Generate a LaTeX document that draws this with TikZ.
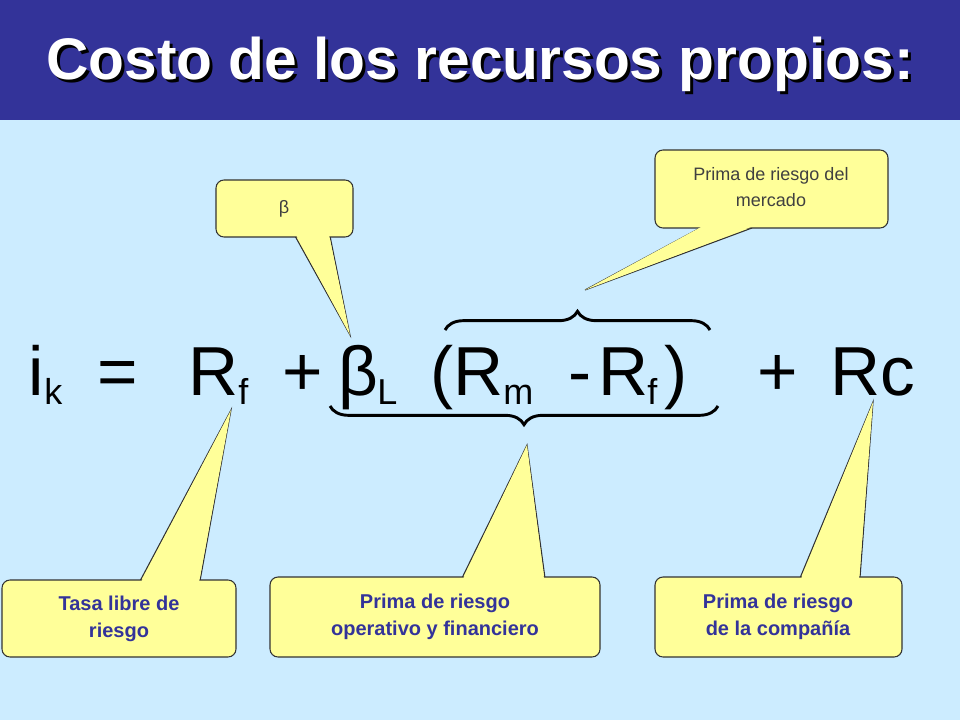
\documentclass[tikz,border=0pt]{standalone}
\usepackage{fontspec}
\setmainfont{Liberation Sans}
\usetikzlibrary{decorations.pathreplacing}
\definecolor{bar}{HTML}{333399}
\definecolor{bg}{HTML}{CCECFF}
\definecolor{call}{HTML}{FFFF99}
\begin{document}
\begin{tikzpicture}[x=0.75pt,y=-0.75pt,
  big/.style={font=\fontsize{52}{52}\selectfont,inner sep=0,anchor=base west},
  sub/.style={font=\fontsize{27}{27}\selectfont,inner sep=0,anchor=base west},
  cbox/.style={draw=black!80,fill=call,rounded corners=6pt,line width=0.8pt},
  ptr/.style={draw=black!80,fill=call,line width=0.8pt,line join=miter},
  ctxt/.style={align=center,text=bar,font=\bfseries\fontsize{15}{20}\selectfont},
  ttxt/.style={align=center,text=black!75,font=\fontsize{13.5}{20}\selectfont},
  br/.style={decorate,line width=2.2pt}]
\useasboundingbox (0,0) rectangle (960,720);
\fill[bg] (0,0) rectangle (960,720);
\fill[bar] (0,0) rectangle (960,120);
\node[text=black,font=\bfseries\fontsize{44}{44}\selectfont] (tsh) at (483,67) {Costo de los recursos propios:};
\node[text=white,font=\bfseries\fontsize{44}{44}\selectfont] (title) at (480,64) {Costo de los recursos propios:};
% formula
\node[big] (i) at (28,395) {i};
\node[sub] (k) at (44,404) {k};
\node[big] (eq) at (97,395) {=};
\node[big] (R1) at (188,395) {R};
\node[sub] (f1) at (238,404) {f};
\node[big] (p1) at (282,395) {+};
\node[big] (beta) at (338,395) {β};
\node[sub] (L) at (377,404) {L};
\node[big] (par1) at (430,395) {(R};
\node[sub] (m) at (503,404) {m};
\node[big] (minus) at (568,395) {-};
\node[big] (R2) at (598,395) {R};
\node[sub] (f2) at (647,404) {f};
\node[big] (par2) at (664,395) {)};
\node[big] (p2) at (757,395) {+};
\node[big] (Rc) at (830,395) {Rc};
% braces
\coordinate (ua) at (445,330); \coordinate (ub) at (710,330);
\draw[br,decoration={brace,amplitude=14pt}] (ua) -- (ub);
\coordinate (la) at (718,406); \coordinate (lb) at (330,406);
\draw[br,decoration={brace,amplitude=14pt}] (la) -- (lb);
% callout beta
\coordinate (t1) at (350,335);
\draw[ptr] (295,236) -- (t1) -- (330,236);
\draw[cbox] (216,180) rectangle (353,237);
\fill[call] (296,235) -- (t1) -- (329,235);
\node[ttxt] (cb) at (284,209) {β};
% callout mercado
\coordinate (t2) at (585,290);
\draw[ptr] (700,228) -- (t2) -- (752,228);
\draw[cbox] (655,150) rectangle (888,228);
\fill[call] (701,227) -- (t2) -- (751,227);
\node[ttxt] (cm) at (771,187) {Prima de riesgo del\\mercado};
% tasa libre
\coordinate (t3) at (231,410);
\draw[ptr] (140,581) -- (t3) -- (200,581);
\draw[cbox] (2,580) rectangle (236,657);
\fill[call] (141,582) -- (t3) -- (199,582);
\node[ctxt] (ct) at (119,619) {Tasa libre de\\riesgo};
% operativo
\coordinate (t4) at (527,445);
\draw[ptr] (462,578) -- (t4) -- (545,578);
\draw[cbox] (270,577) rectangle (600,657);
\fill[call] (463,579) -- (t4) -- (544,579);
\node[ctxt] (co) at (435,617) {Prima de riesgo\\operativo y financiero};
% compania
\coordinate (t5) at (873,402);
\draw[ptr] (800,578) -- (t5) -- (860,578);
\draw[cbox] (655,577) rectangle (902,657);
\fill[call] (801,579) -- (t5) -- (859,579);
\node[ctxt] (cc) at (778,617) {Prima de riesgo\\de la compañía};
\end{tikzpicture}
\end{document}
